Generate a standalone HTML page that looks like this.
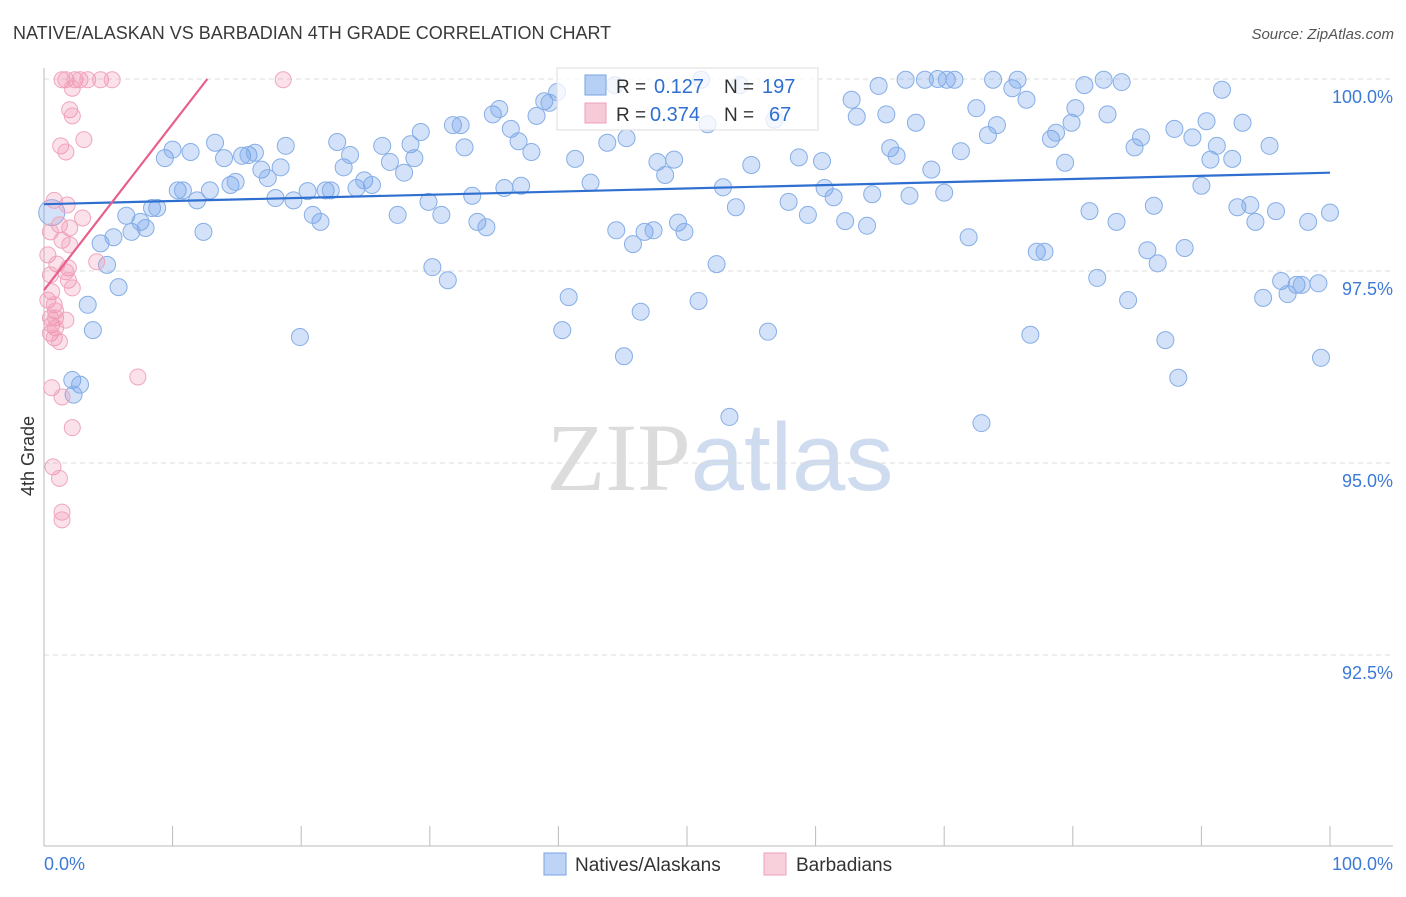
<!DOCTYPE html>
<html><head><meta charset="utf-8"><style>
body{margin:0;background:#fff;font-family:"Liberation Sans",sans-serif;}
svg text{font-family:"Liberation Sans",sans-serif;}
</style></head><body>
<svg id="chart" width="1406" height="892" xmlns="http://www.w3.org/2000/svg">
<text x="13" y="39" font-size="18" fill="#3a3a3a">NATIVE/ALASKAN VS BARBADIAN 4TH GRADE CORRELATION CHART</text>
<text x="1394" y="39" font-size="15" fill="#555" text-anchor="end" font-style="italic">Source: ZipAtlas.com</text>
<text x="720" y="490" font-size="96" text-anchor="middle"><tspan fill="#dcdcdc" font-family="Liberation Serif">ZIP</tspan><tspan fill="#cfdcf0">atlas</tspan></text>
<g id="grid"></g>
<g id="axes"></g>
<g id="pts"></g>
<g id="trend"></g>
<text transform="translate(34,456) rotate(-90)" font-size="18" fill="#333" text-anchor="middle">4th Grade</text>
<g>
<rect x="557" y="68" width="261" height="62" fill="rgba(255,255,255,0.75)" stroke="#ddd"/>
<rect x="585" y="75" width="21" height="20" fill="rgba(110,160,235,0.5)" stroke="#7aa3e0"/>
<rect x="585" y="103" width="21" height="20" fill="rgba(240,150,175,0.5)" stroke="#eea0b8"/>
<text x="616" y="93" font-size="19" fill="#333">R = </text><text x="654" y="93" font-size="20" fill="#2f6fd0">0.127</text>
<text x="724" y="93" font-size="19" fill="#333">N = </text><text x="762" y="93" font-size="20" fill="#2f6fd0">197</text>
<text x="616" y="121" font-size="19" fill="#333">R = </text><text x="650" y="121" font-size="20" fill="#2f6fd0">0.374</text>
<text x="724" y="121" font-size="19" fill="#333">N = </text><text x="769" y="121" font-size="20" fill="#2f6fd0">67</text>
</g>
<g>
<rect x="544" y="853" width="22" height="22" fill="rgba(110,160,235,0.45)" stroke="#7aa3e0"/>
<text x="575" y="871" font-size="19" fill="#333">Natives/Alaskans</text>
<rect x="764" y="853" width="22" height="22" fill="rgba(240,150,175,0.45)" stroke="#eea0b8"/>
<text x="796" y="871" font-size="19" fill="#333">Barbadians</text>
</g>
</svg>
<script>
const blueX=[0.6,2.2,2.8,2.3,3.4,3.8,4.4,4.9,5.4,5.8,6.4,6.8,7.5,7.9,8.4,8.8,9.4,10.0,10.4,10.8,11.4,11.9,12.4,12.9,13.3,14.0,14.5,14.9,15.4,15.9,16.4,16.9,17.4,18.0,18.4,18.8,19.4,19.9,20.5,20.9,21.5,21.9,22.3,22.8,23.3,23.8,24.3,24.9,25.5,26.3,26.9,27.5,28.0,28.5,28.8,29.3,29.9,30.2,30.9,31.4,31.8,32.4,32.7,33.3,33.7,34.4,34.9,35.4,36.3,36.9,35.8,37.1,37.9,38.3,38.9,39.3,39.9,40.8,41.3,40.3,42.5,43.8,44.5,45.1,45.3,45.8,46.4,46.7,47.4,47.7,48.3,49.0,49.3,49.8,50.9,51.1,51.6,52.3,52.8,53.3,53.8,55.0,56.3,57.9,58.7,59.4,60.5,60.7,61.4,62.3,62.8,63.2,64.0,64.4,64.9,65.5,65.8,66.3,67.0,67.3,67.8,68.5,69.0,69.5,70.0,70.2,70.8,71.3,71.9,72.5,72.9,73.4,73.8,74.1,75.3,75.7,76.4,76.7,77.2,77.8,78.3,78.7,79.4,79.9,80.2,80.9,81.3,81.9,82.4,82.7,83.4,83.8,84.3,84.8,85.3,85.8,86.3,86.6,87.2,87.9,88.2,88.7,89.3,90.0,90.4,90.7,91.2,91.6,92.4,92.8,93.2,93.8,94.2,94.8,95.3,95.8,96.2,96.7,97.4,97.8,98.3,99.1,99.3,100.0,44.4,54.1,56.8];
const blueY=[98.26,96.08,96.02,95.89,97.06,96.73,97.86,97.58,97.94,97.29,98.22,98.01,98.14,98.06,98.32,98.32,98.97,99.08,98.55,98.55,99.05,98.42,98.01,98.55,99.17,98.97,98.62,98.66,99.00,99.01,99.04,98.82,98.71,98.45,98.85,99.13,98.42,96.64,98.54,98.23,98.14,98.55,98.55,99.18,98.85,99.01,98.58,98.68,98.62,99.13,98.92,98.23,98.78,99.15,98.97,99.31,98.40,97.55,98.23,97.38,99.40,99.40,99.11,98.48,98.14,98.07,99.54,99.61,99.35,99.19,98.58,98.61,99.05,99.52,99.71,99.69,99.83,97.16,98.96,96.73,98.65,99.17,98.03,96.39,99.23,97.85,96.97,98.01,98.03,98.92,98.75,98.95,98.13,98.01,97.11,99.99,99.41,97.59,98.59,95.60,98.33,98.88,96.71,98.40,98.98,98.23,98.93,98.58,98.46,98.15,99.73,99.51,98.09,98.50,99.91,99.54,99.10,99.00,99.99,98.48,99.43,99.99,98.82,100.0,98.52,99.99,99.99,99.06,97.94,99.62,95.52,99.27,99.99,99.40,99.88,99.99,99.73,96.67,97.75,97.75,99.22,99.30,98.91,99.43,99.62,99.92,98.28,97.41,99.99,99.54,98.14,99.96,97.12,99.11,99.24,97.77,98.35,97.60,96.60,99.35,96.11,97.80,99.24,98.61,99.45,98.95,99.13,99.86,98.96,98.33,99.43,98.36,98.14,97.15,99.13,98.28,97.37,97.20,97.32,97.32,98.14,97.34,96.37,98.26,99.92,99.92,99.47];
const pinkX=[1.4,1.7,2.4,2.8,3.4,4.4,5.3,18.6,2.2,2.0,2.2,3.1,1.3,1.7,0.8,1.8,1.2,2.0,3.0,0.5,1.4,2.0,0.3,1.0,1.9,4.1,0.5,1.7,1.9,2.2,0.6,0.3,0.8,0.9,0.5,0.9,1.7,0.6,0.9,0.5,0.8,1.2,0.6,1.4,7.3,2.2,0.7,1.2,1.4,1.4];
const pinkY=[99.99,99.99,99.99,99.99,99.99,99.99,99.99,99.99,99.88,99.60,99.52,99.21,99.13,99.05,98.42,98.36,98.10,98.06,98.19,98.01,97.90,97.84,97.71,97.59,97.54,97.62,97.45,97.49,97.38,97.28,97.23,97.12,97.06,96.98,96.89,96.89,96.86,96.80,96.76,96.69,96.63,96.58,95.98,95.86,96.12,95.46,94.95,94.80,94.36,94.26];
const blueTrend=[98.37,98.78];
const pinkTrend=[[0,97.25],[12.7,100]];
const yTicks=[100,97.5,95,92.5];
const yTickLabels=["100.0%","97.5%","95.0%","92.5%"];
const xTickVals=[0,10,20,30,40,50,60,70,80,90,100];

const NS="http://www.w3.org/2000/svg";
const X=v=>44+v*12.86;
const Y=v=>79+(100-v)*76.8;
function mk(tag,attrs,parent){const e=document.createElementNS(NS,tag);for(const k in attrs)e.setAttribute(k,attrs[k]);document.getElementById(parent).appendChild(e);return e;}
yTicks.forEach((t,i)=>{
  const l=mk('line',{x1:44,x2:1393,y1:Y(t),y2:Y(t),stroke:'#ddd','stroke-dasharray':'5,4'},'grid');
  
  
  const tx=mk('text',{x:1393,y:Y(t)+24,'font-size':18,fill:'#3d7ad6','text-anchor':'end'},'axes');
  tx.textContent=yTickLabels[i];
  
  
});
const ax=mk('line',{x1:44,x2:44,y1:68,y2:846,stroke:'#bbb'},'axes');


const bx=mk('line',{x1:44,x2:1393,y1:846,y2:846,stroke:'#bbb'},'axes');


xTickVals.forEach(v=>{
  const t=mk('line',{x1:X(v),x2:X(v),y1:826,y2:846,stroke:'#bbb'},'axes');
  
  
});
const xl0=mk('text',{x:44,y:870,'font-size':18,fill:'#3d7ad6'},'axes');xl0.textContent='0.0%';


const xl1=mk('text',{x:1393,y:870,'font-size':18,fill:'#3d7ad6','text-anchor':'end'},'axes');xl1.textContent='100.0%';


blueX.forEach((v,i)=>{
  const c=mk('circle',{cx:X(v),cy:Y(blueY[i]),r:i===0?13:8.5,fill:'rgba(110,160,235,0.3)',stroke:'#86aee6','stroke-width':1},'pts');
  
  
});
pinkX.forEach((v,i)=>{
  const c=mk('circle',{cx:X(v),cy:Y(pinkY[i]),r:8,fill:'rgba(240,140,170,0.25)',stroke:'#f0a5bd','stroke-width':1},'pts');
  
  
});
const bl=mk('line',{x1:X(0),y1:Y(blueTrend[0]),x2:X(100),y2:Y(blueTrend[1]),stroke:'#2f6fd0','stroke-width':2.2},'trend');


const pl=mk('line',{x1:X(pinkTrend[0][0]),y1:Y(pinkTrend[0][1]),x2:X(pinkTrend[1][0]),y2:Y(pinkTrend[1][1]),stroke:'#e8608a','stroke-width':2.2},'trend');


</script>
</body></html>
